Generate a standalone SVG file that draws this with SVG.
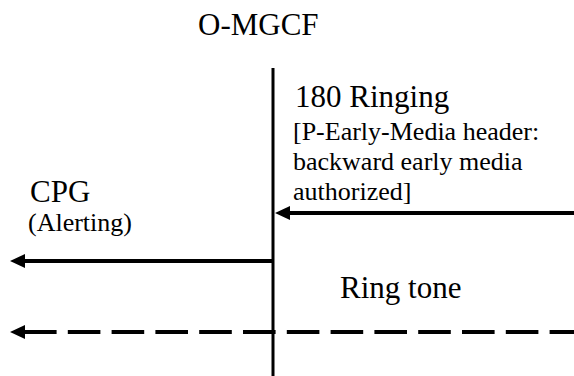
<svg xmlns="http://www.w3.org/2000/svg" width="574" height="376" viewBox="0 0 574 376">
  <style>
    .big { font-family: "Liberation Serif", "Times New Roman", serif; font-size: 31px; fill: #000; }
    .small { font-family: "Liberation Serif", "Times New Roman", serif; font-size: 26px; fill: #000; }
    .msg { stroke: #000; stroke-width: 4; fill: none; }
    .dash { stroke-dasharray: 32.6 11.2; }
    .life { stroke: #000; stroke-width: 3; fill: none; }
  </style>
  <defs>
    <marker id="ah" viewBox="0 0 15 14" refX="1" refY="7" markerWidth="15" markerHeight="14" markerUnits="userSpaceOnUse" orient="auto-start-reverse">
      <path d="M0,0 L15,7 L0,14 z" fill="#000"/>
    </marker>
  </defs>
  <g id="omgcf">
    <text class="big" x="198" y="35">O-MGCF</text>
    <line class="life" x1="273" y1="68" x2="273" y2="376"/>
  </g>
  <g id="connectors">
    <line class="msg" x1="574" y1="213" x2="289" y2="213" marker-end="url(#ah)"/>
    <line class="msg" x1="273" y1="261" x2="24" y2="261" marker-end="url(#ah)"/>
    <line class="msg dash" x1="24" y1="332" x2="574" y2="332" marker-start="url(#ah)"/>
  </g>
  <g id="label-180">
    <text class="big" x="295" y="107">180 Ringing</text>
    <text class="small" x="293" y="140">[P-Early-Media header:</text>
    <text class="small" x="293" y="170">backward early media</text>
    <text class="small" x="293" y="200">authorized]</text>
  </g>
  <g id="label-cpg">
    <text class="big" x="30" y="202">CPG</text>
    <text class="small" x="28" y="231">(Alerting)</text>
  </g>
  <g id="label-ringtone">
    <text class="big" x="340" y="298">Ring tone</text>
  </g>
</svg>
